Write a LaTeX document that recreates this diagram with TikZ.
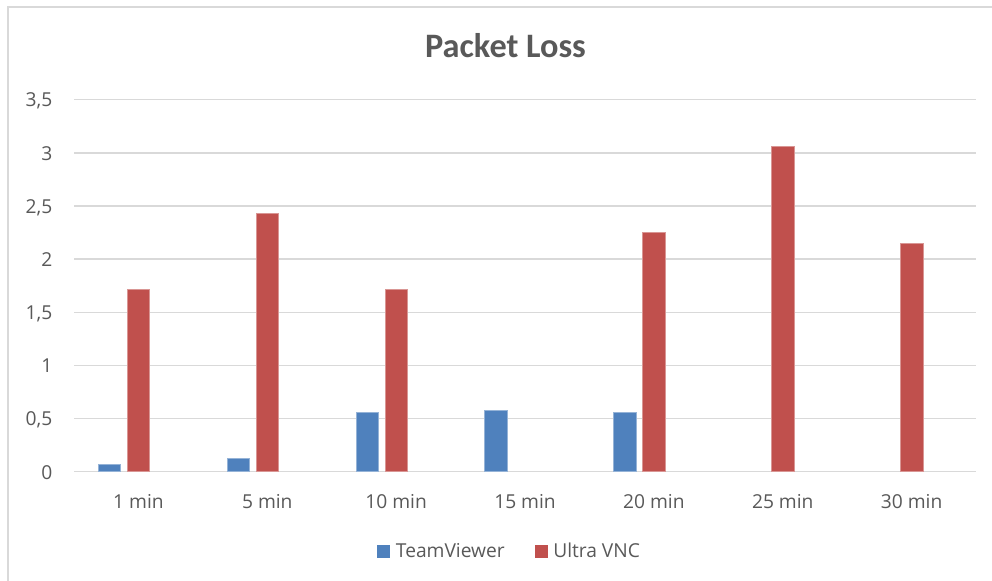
\documentclass[tikz,border=0pt]{standalone}
\usepackage{fontspec}
\setmainfont{Carlito}
\newfontfamily\lblfont{Open Sans}
\definecolor{txt}{HTML}{595959}
\definecolor{grid}{HTML}{D9D9D9}
\definecolor{tvblue}{HTML}{4F81BD}
\definecolor{vncred}{HTML}{C0504D}
\tikzset{
  gridline/.style={draw=grid, line width=1.1pt},
  lbl/.style={inner sep=0pt, text=txt, font=\lblfont\fontsize{14.4}{17}\selectfont},
  ttl/.style={inner sep=0pt, text=txt, font=\fontsize{25.7}{30}\selectfont\bfseries},
  tvbar/.style={fill=tvblue, draw=tvblue!60!white, line width=0.4pt},
  vncbar/.style={fill=vncred, draw=vncred!60!white, line width=0.4pt}
}
\begin{document}
\begin{tikzpicture}[x=0.75pt,y=-0.75pt]
\useasboundingbox (0,0) rectangle (992,581);
\fill[white] (0,0) rectangle (992,581);
% chart border
\draw[gridline] (8,600) -- (8,7) -- (1000,7);
% title
\node[ttl, anchor=base] (title) at (505.5,58) {Packet Loss};
% gridlines and y labels
\foreach \v/\t [count=\k] in {0/0,0.5/{0,5},1/1,1.5/{1,5},2/2,2.5/{2,5},3/3,3.5/{3,5}} {
  \draw[gridline] (74,{471.7-106.3*\v}) -- (976,{471.7-106.3*\v});
  \node[lbl, anchor=base east] (y\k) at (52.5,{471.7-106.3*\v+7.3}) {\t};
}
% bars
\foreach \tv/\vnc [count=\i] in {0.07/1.716,0.126/2.427,0.562/1.716,0.58/0/,0.563/2.252,0/3.064,0/2.149} {
  \pgfmathsetmacro\c{74+128.86*(\i-0.5)}
  \ifdim\tv pt>0pt
    \filldraw[tvbar] ({\c-29-11.25},471.7) rectangle ({\c-29+11.25},{471.7-106.3*\tv});
  \fi
  \ifdim\vnc pt>0pt
    \filldraw[vncbar] ({\c-11.25},471.7) rectangle ({\c+11.25},{471.7-106.3*\vnc});
  \fi
}
% category labels
\foreach \t [count=\i] in {1 min,5 min,10 min,15 min,20 min,25 min,30 min} {
  \node[lbl, anchor=base] (x\i) at ({74+128.86*(\i-0.5)},508) {\t};
}
% legend
\fill[tvblue] (377,545) rectangle (390,557.7);
\node[lbl, anchor=base west] (legtv) at (395.7,557) {TeamViewer};
\fill[vncred] (535,545) rectangle (548,557.7);
\node[lbl, anchor=base west] (legvnc) at (553,557) {Ultra VNC};
\end{tikzpicture}
\end{document}
